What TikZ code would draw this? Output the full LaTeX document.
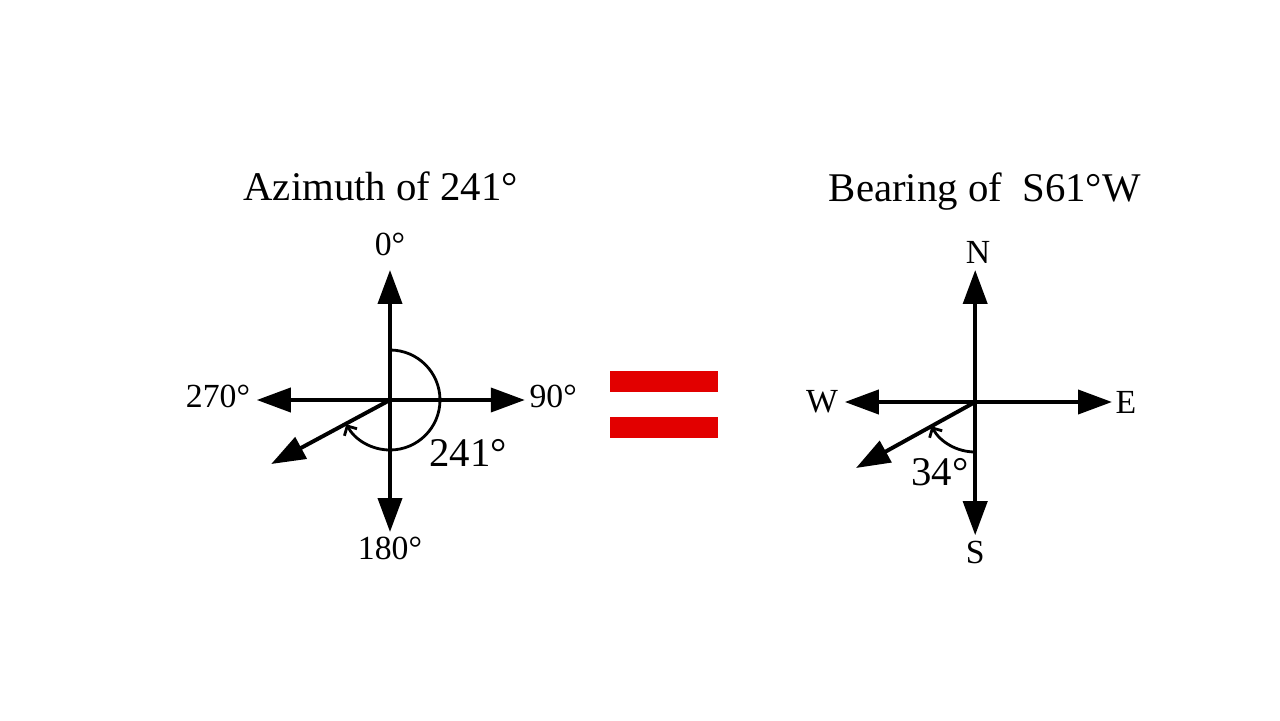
\documentclass[tikz,border=0pt]{standalone}
\usepackage{fontspec}
\setmainfont{Liberation Serif}
\usetikzlibrary{arrows.meta,positioning}
\definecolor{eqred}{RGB}{226,0,0}
\tikzset{
  axis/.style={line width=2.8pt, -{Triangle[length=0.85cm,width=0.6cm]}},
  turn/.style={line width=2pt, -{Straight Barb[length=0.18cm,width=0.36cm]}},
  lbl/.style={font=\fontsize{24}{28}\selectfont, inner sep=1pt},
  big/.style={font=\fontsize{29}{35}\selectfont, inner sep=1pt},
  bar/.style={fill=eqred},
}
\begin{document}
\begin{tikzpicture}
    \useasboundingbox (0,0) rectangle (32,18);
    % azimuth compass
    \coordinate (A) at (9.75, 8);
    \coordinate (An) at (9.75, 11.25);
    \coordinate (As) at (9.75, 4.7);
    \coordinate (Aw) at (6.42, 8);
    \coordinate (Ae) at (13.12, 8);
    \coordinate (Ad) at (6.78, 6.4);
    \draw[axis] (A) -- (An);
    \draw[axis] (A) -- (As);
    \draw[axis] (A) -- (Aw);
    \draw[axis] (A) -- (Ae);
    \draw[axis] (A) -- (Ad);
    \draw[turn] ([yshift=1.25cm]A) arc[start angle=90, end angle=-151, radius=1.25];
    \node[big] (atitle) at (9.52, 13.35) {Azimuth of 241°};
    \node[lbl] (a0) at (9.75, 11.9) {0°};
    \node[lbl] (a90) at (13.83, 8.08) {90°};
    \node[lbl] (a180) at (9.75, 4.28) {180°};
    \node[lbl] (a270) at (5.45, 8.08) {270°};
    \node[big] (aang) at (11.7, 6.68) {241°};
    % equals sign
    \fill[bar] (15.25, 8.2) rectangle (17.95, 8.72);
    \fill[bar] (15.25, 7.05) rectangle (17.95, 7.57);
    % bearing compass
    \coordinate (B) at (24.38, 7.95);
    \coordinate (Bn) at (24.38, 11.25);
    \coordinate (Bs) at (24.38, 4.62);
    \coordinate (Bw) at (21.12, 7.95);
    \coordinate (Be) at (27.8, 7.95);
    \coordinate (Bd) at (21.4, 6.3);
    \draw[axis] (B) -- (Bn);
    \draw[axis] (B) -- (Bs);
    \draw[axis] (B) -- (Bw);
    \draw[axis] (B) -- (Be);
    \draw[axis] (B) -- (Bd);
    \draw[turn] ([yshift=-1.25cm]B) arc[start angle=270, end angle=209, radius=1.25];
    \node[big] (btitle) at (24.62, 13.22) {Bearing of~ S61°W};
    \node[lbl] (bn) at (24.45, 11.7) {N};
    \node[lbl] (bs) at (24.38, 4.18) {S};
    \node[lbl] (bw) at (20.55, 7.95) {W};
    \node[lbl] (be) at (28.15, 7.95) {E};
    \node[big] (bang) at (23.5, 6.2) {34°};
\end{tikzpicture}
\end{document}
